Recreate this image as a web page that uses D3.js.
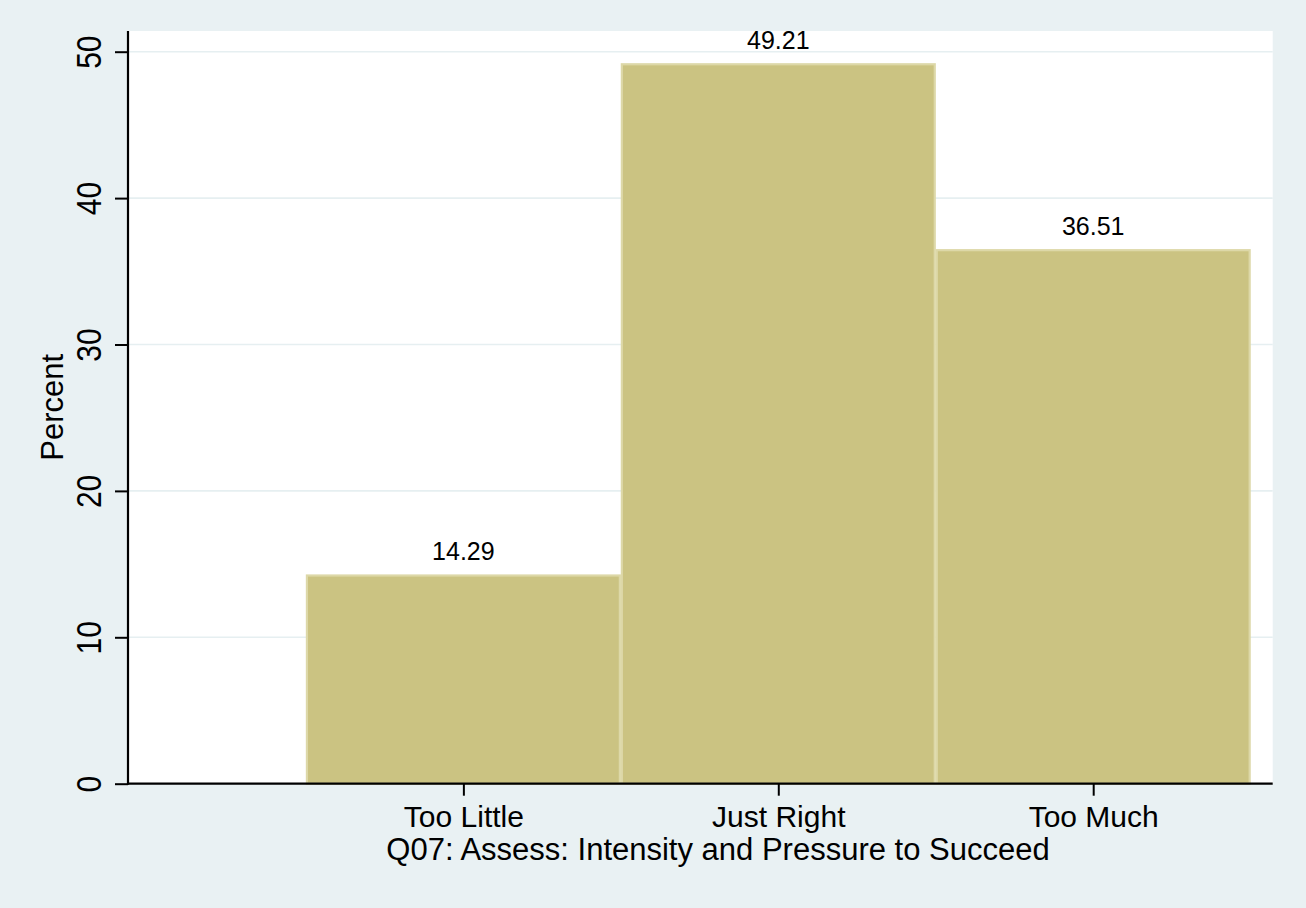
<!DOCTYPE html>
<html>
<head>
<meta charset="utf-8">
<script src="https://cdn.jsdelivr.net/npm/d3@7"></script>
<style>
  html, body { margin: 0; padding: 0; background: #e9f1f3; }
  svg { display: block; }
  text { font-family: "Liberation Sans", Arial, Helvetica, sans-serif; fill: #000; }
</style>
</head>
<body>
<script>
// ---- data ----
const categories = ["Too Little", "Just Right", "Too Much"];
const categoryCodes = [1, 2, 3];
const percents = [14.29, 49.21, 36.51];
const valueLabels = ["14.29", "49.21", "36.51"];
const yTicks = [0, 10, 20, 30, 40, 50];
const yTitle = "Percent";
const xTitle = "Q07: Assess: Intensity and Pressure to Succeed";

// ---- layout ----
const W = 1306, H = 908;
const plot = { left: 128, right: 1272.7, top: 31, bottom: 783.7 };

const svg = d3.select("body").append("svg").attr("width", W).attr("height", H);
svg.append("rect").attr("width", W).attr("height", H).attr("fill", "#e9f1f3");

svg.append("rect")
  .attr("x", plot.left).attr("y", plot.top)
  .attr("width", plot.right - plot.left).attr("height", plot.bottom - plot.top)
  .attr("fill", "#ffffff");

const x = d3.scaleLinear().domain([-0.065, 3.57]).range([plot.left, plot.right]);
const y = d3.scaleLinear().domain([0, 50]).range([plot.bottom, 51.7]);

// gridlines
svg.append("g").selectAll("line")
  .data(yTicks.filter(d => d > 0))
  .join("line")
  .attr("x1", plot.left).attr("x2", plot.right)
  .attr("y1", d => y(d)).attr("y2", d => y(d))
  .attr("stroke", "#e6eff1").attr("stroke-width", 1.6);

// bars
const data = categories.map((c, i) => ({ c, code: categoryCodes[i], v: percents[i], lab: valueLabels[i] }));
svg.append("g").selectAll("rect")
  .data(data)
  .join("rect")
  .attr("x", d => x(d.code - 0.5) + 1)
  .attr("width", d => x(d.code + 0.5) - x(d.code - 0.5) - 2)
  .attr("y", d => y(d.v) + 1)
  .attr("height", d => y(0) - y(d.v) - 1)
  .attr("fill", "#cbc382")
  .attr("stroke", "#ddd8a8")
  .attr("stroke-width", 2.2);

// value labels
svg.append("g").selectAll("text")
  .data(data)
  .join("text")
  .attr("x", d => x(d.code))
  .attr("y", d => y(d.v) - 14)
  .attr("text-anchor", "middle")
  .style("font-size", "25px")
  .text(d => d.lab);

// y axis
const yAxis = d3.axisLeft(y).tickValues(yTicks).tickSize(13).tickFormat(d3.format("d"));
const gy = svg.append("g").attr("transform", `translate(${plot.left},0)`).call(yAxis);
gy.select(".domain").remove();
gy.selectAll(".tick line").attr("stroke", "#000").attr("stroke-width", 2);
gy.selectAll(".tick text")
  .attr("x", null).attr("dy", null)
  .attr("text-anchor", "middle")
  .attr("transform", "translate(-27,0) rotate(-90) scale(1,1.15)")
  .style("font-size", "30px")
  .style("font-family", '"Liberation Sans", Arial, sans-serif')
  .attr("fill", "#000");
svg.append("line")
  .attr("x1", plot.left).attr("x2", plot.left)
  .attr("y1", plot.top).attr("y2", plot.bottom + 1)
  .attr("stroke", "#000").attr("stroke-width", 2.2);

// x axis
const xAxis = d3.axisBottom(x).tickValues(categoryCodes).tickSize(12)
  .tickFormat((d, i) => categories[i]);
const gx = svg.append("g").attr("transform", `translate(0,${plot.bottom})`).call(xAxis);
gx.select(".domain").remove();
gx.selectAll(".tick line").attr("stroke", "#000").attr("stroke-width", 2);
gx.selectAll(".tick text")
  .attr("y", 43).attr("dy", null)
  .style("font-size", "30px")
  .style("font-family", '"Liberation Sans", Arial, sans-serif')
  .attr("fill", "#000");
svg.append("line")
  .attr("x1", plot.left - 1).attr("x2", plot.right)
  .attr("y1", plot.bottom).attr("y2", plot.bottom)
  .attr("stroke", "#000").attr("stroke-width", 2.2);

// titles
svg.append("text")
  .attr("x", 718).attr("y", 860)
  .attr("text-anchor", "middle")
  .style("font-size", "31px")
  .text(xTitle);

svg.append("text")
  .attr("transform", `translate(63,${(plot.top + plot.bottom) / 2}) rotate(-90)`)
  .attr("text-anchor", "middle")
  .style("font-size", "31px")
  .text(yTitle);
</script>
</body>
</html>
